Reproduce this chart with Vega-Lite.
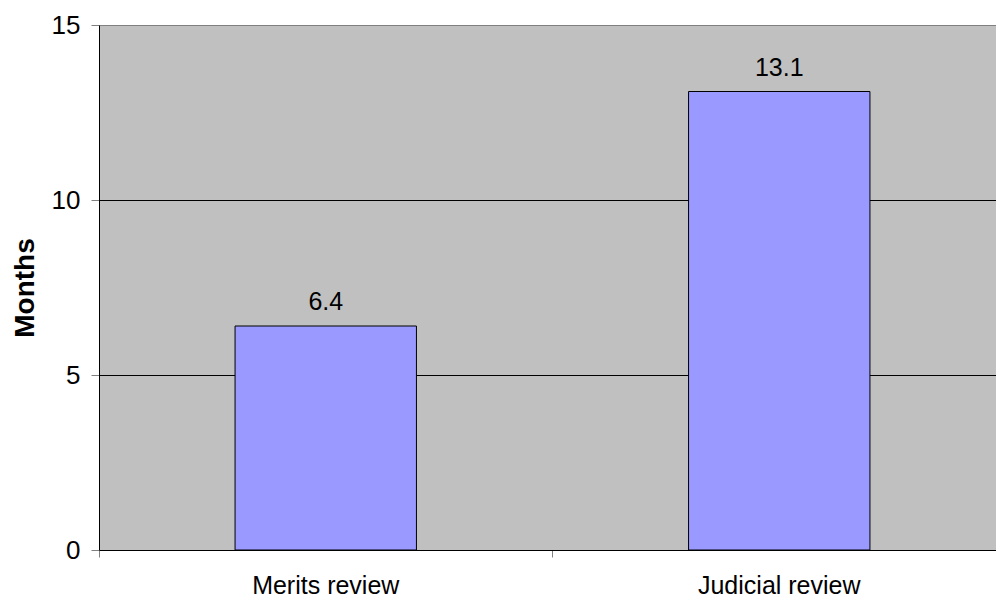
{
  "$schema": "https://vega.github.io/schema/vega-lite/v6.json",
  "width": 907,
  "height": 525,
  "autosize": {"type": "none"},
  "padding": {"left": 99, "top": 25, "right": 0, "bottom": 46},
  "background": "white",
  "view": {"fill": "#C0C0C0", "stroke": null},
  "config": {"font": "Liberation Sans"},
  "data": {
    "values": [
      {"category": "Merits review", "months": 6.4},
      {"category": "Judicial review", "months": 13.1}
    ]
  },
  "encoding": {
    "x": {
      "field": "category",
      "type": "nominal",
      "sort": null,
      "scale": {"paddingInner": 0, "paddingOuter": 0},
      "axis": {
        "title": null,
        "labelAngle": 0,
        "labelFontSize": 25,
        "labelColor": "black",
        "labelPadding": 16,
        "tickSize": 7,
        "tickColor": "#808080",
        "bandPosition": 0,
        "domainColor": "black",
        "domainWidth": 1,
        "grid": false
      }
    },
    "y": {
      "field": "months",
      "type": "quantitative",
      "scale": {"domain": [0, 15], "nice": false},
      "axis": {
        "title": "Months",
        "titleFontSize": 28,
        "titleFontWeight": "bold",
        "titleColor": "black",
        "titleX": -66,
        "titleY": 262.5,
        "titleBaseline": "alphabetic",
        "titleAngle": -90,
        "values": [0, 5, 10, 15],
        "labelFontSize": 26,
        "labelColor": "black",
        "labelPadding": 11,
        "tickSize": 8,
        "tickColor": "#808080",
        "domainColor": "black",
        "domainWidth": 1,
        "grid": true,
        "gridColor": {"condition": {"test": "datum.value === 15", "value": "#808080"}, "value": "black"},
        "gridWidth": 1,
        "gridOpacity": 1
      }
    }
  },
  "layer": [
    {
      "mark": {
        "type": "bar",
        "fill": "#9999FF",
        "stroke": "black",
        "strokeWidth": 1,
        "width": {"band": 0.4}
      }
    },
    {
      "mark": {
        "type": "text",
        "fontSize": 25,
        "color": "black",
        "baseline": "alphabetic",
        "dy": -16
      },
      "encoding": {
        "text": {"field": "months", "type": "quantitative", "format": ".1f"}
      }
    }
  ]
}
